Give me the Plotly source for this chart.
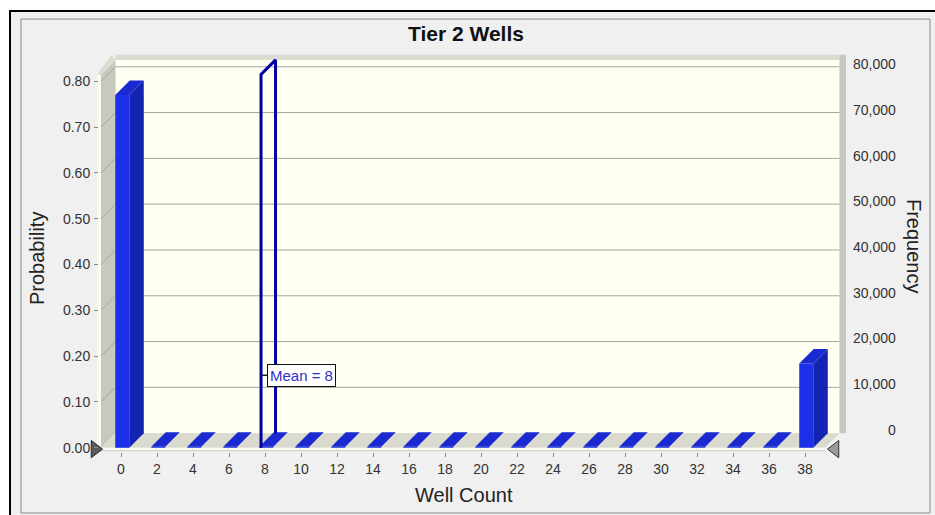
import plotly.graph_objects as go

# ---------------- data ----------------
well_counts = [0, 2, 4, 6, 8, 10, 12, 14, 16, 18, 20, 22, 24, 26, 28, 30, 32, 34, 36, 38]
probability = [0.770, 0.002, 0.002, 0.002, 0.002, 0.002, 0.002, 0.002, 0.002, 0.002,
               0.002, 0.002, 0.002, 0.002, 0.002, 0.002, 0.002, 0.002, 0.002, 0.184]
trials = 100000
mean_value = 7.78
mean_label = "Mean = 8"
prob_ticks = [0.0, 0.1, 0.2, 0.3, 0.4, 0.5, 0.6, 0.7, 0.8]
prob_ticktext = ["0.00", "0.10", "0.20", "0.30", "0.40", "0.50", "0.60", "0.70", "0.80"]
freq_ticks = [0, 10000, 20000, 30000, 40000, 50000, 60000, 70000, 80000]
freq_ticktext = ["0", "10,000", "20,000", "30,000", "40,000", "50,000", "60,000", "70,000", "80,000"]
x_ticks = well_counts

title = "Tier 2 Wells"
x_title = "Well Count"
y_title = "Probability"
y2_title = "Frequency"

# ---------------- layout geometry (pixels of a 935x515 design) ----------------
W, H = 935, 515
FIG_H = 521               # page height used by the viewer
PX0, PX1 = 84, 846        # plot area left / right
AX_LEFT = 98              # left axis position
PY0, PY1 = 52, 450        # plot area top / bottom
X_ORIGIN_PX, X_UNIT_PX = 121, 18.0       # x=0 pixel, pixels per unit
P_ORIGIN_PX, P_UNIT_PX = 446, 456.25     # p=0 pixel, pixels per probability unit
F_ORIGIN_PX, F_UNIT_PX = 428, 364 / 80000.0
RIGHT_LABEL_PX = 898

xr = [(PX0 - X_ORIGIN_PX) / X_UNIT_PX, (PX1 - X_ORIGIN_PX) / X_UNIT_PX]
yr = [(P_ORIGIN_PX - PY1) / P_UNIT_PX, (P_ORIGIN_PX - PY0) / P_UNIT_PX]
y2r = [(F_ORIGIN_PX - PY1) / F_UNIT_PX, (F_ORIGIN_PX - PY0) / F_UNIT_PX]

DX = 14.5 / X_UNIT_PX          # depth offset in x units
DY = 14.5 / P_UNIT_PX          # depth offset in probability units
XL = (101 - X_ORIGIN_PX) / X_UNIT_PX     # front-left of floor
XL_EDGE = (97 - X_ORIGIN_PX) / X_UNIT_PX
XR = (825 - X_ORIGIN_PX) / X_UNIT_PX     # front-right of floor
XR_OUT = (846 - X_ORIGIN_PX) / X_UNIT_PX
PT = 0.815                                # front top of walls
LEDGE = 5 / P_UNIT_PX
STRIP = 3 / P_UNIT_PX
BAR_HALF = 0.39
BAR_SHIFT = 0.07

C_PANEL = "#f0f0f0"
C_BACK = "#fffff2"
C_WALL = "#c8c8be"
C_TOP = "#dcdcd2"
C_FLOOR = "#dadacf"
C_EDGE = "#fbfbf4"
C_GRID = "#a4a4a4"
C_FRONT = "#1b30e8"
C_SIDE = "#1424b2"
C_BTOP = "#1a2ad0"
C_MEAN = "#0000a0"
FONT = "Arial, Liberation Sans, sans-serif"

fig = go.Figure()


def poly(xs, ys, color):
    fig.add_trace(go.Scatter(x=list(xs) + [xs[0]], y=list(ys) + [ys[0]], fill="toself",
                             fillcolor=color, mode="lines", line=dict(width=0, color=color),
                             hoverinfo="skip", showlegend=False))


def line(xs, ys, color, width=1):
    fig.add_trace(go.Scatter(x=xs, y=ys, mode="lines", line=dict(color=color, width=width),
                             hoverinfo="skip", showlegend=False))


# back wall
poly([XL + DX, XR + DX, XR + DX, XL + DX], [DY, DY, PT + DY, PT + DY], C_BACK)
# top ledge
poly([XL + DX, XR_OUT, XR_OUT, XL + DX], [PT + DY, PT + DY, PT + DY + LEDGE, PT + DY + LEDGE], C_TOP)
# right wall strip
poly([XR + DX, XR_OUT, XR_OUT, XR + DX], [DY, DY, PT + DY + LEDGE, PT + DY + LEDGE], C_WALL)
# left wall
poly([XL, XL + DX, XL + DX, XL], [0, DY, PT + DY, PT], C_WALL)
# left wall front edge
poly([XL_EDGE, XL, XL, XL_EDGE], [-STRIP, -STRIP, PT, PT], C_EDGE)
# left wall top edge
poly([XL_EDGE, XL, XL + DX, XL + DX - (XL - XL_EDGE)],
     [PT, PT, PT + DY, PT + DY + LEDGE], C_TOP)

# gridlines on back wall and left wall
gx, gy = [], []
for p in prob_ticks[1:]:
    gx += [XL, XL + DX, XR + DX, None]
    gy += [p, p + DY, p + DY, None]
line(gx, gy, C_GRID, 1)

# floor
poly([XL, XR, XR + DX, XL + DX], [0, 0, DY, DY], C_FLOOR)
# floor front edge
poly([XL_EDGE, XR, XR, XL_EDGE], [-STRIP, -STRIP, 0, 0], C_EDGE)
line([XL_EDGE, XR], [-STRIP, -STRIP], "#c8c8c0", 1)

# bars
for v, p in zip(well_counts, probability):
    x0 = v + BAR_SHIFT - BAR_HALF
    x1 = v + BAR_SHIFT + BAR_HALF
    poly([x0, x1, x1, x0], [0, 0, p, p], C_FRONT)
    poly([x1, x1 + DX, x1 + DX, x1], [0, DY, p + DY, p], C_SIDE)
    poly([x0, x1, x1 + DX, x0 + DX], [p, p, p + DY, p + DY], C_BTOP)

# invisible frequency trace on the right axis
fig.add_trace(go.Scatter(x=well_counts, y=[p * trials for p in probability], yaxis="y2",
                         mode="markers", marker=dict(opacity=0), hoverinfo="skip", showlegend=False))

# mean line
line([mean_value, mean_value, mean_value + DX, mean_value + DX],
     [0, PT, PT + DY, DY], C_MEAN, 3)
mean_lab_p = 0.158
line([mean_value, mean_value + 0.35], [mean_lab_p, mean_lab_p], "#222222", 1.5)
fig.add_annotation(x=mean_value + 0.33, y=mean_lab_p, xref="x", yref="y", text=mean_label,
                   showarrow=False, xanchor="left", yanchor="middle",
                   font=dict(family=FONT, size=15, color="#3030c8"),
                   bgcolor="#ffffff", bordercolor="#111111", borderwidth=1, borderpad=2)

# certainty grabbers
fig.add_trace(go.Scatter(x=[(95 - X_ORIGIN_PX) / X_UNIT_PX], y=[-0.003], mode="markers",
                         marker=dict(symbol="triangle-right", size=15, color="#5a5a5a",
                                     line=dict(color="#2a2a2a", width=1)),
                         cliponaxis=False, hoverinfo="skip", showlegend=False))
fig.add_trace(go.Scatter(x=[(835 - X_ORIGIN_PX) / X_UNIT_PX], y=[-0.003], mode="markers",
                         marker=dict(symbol="triangle-left", size=15, color="#9a9a9a",
                                     line=dict(color="#333333", width=1)),
                         cliponaxis=False, hoverinfo="skip", showlegend=False))


# panel shapes (paper coords)
def px(x):
    return x / W


def py(y):
    return 1 - y / H


shapes = [
    dict(type="rect", xref="paper", yref="paper", x0=px(10), x1=px(945), y0=py(11), y1=py(530),
         fillcolor=C_PANEL, line=dict(color="#000000", width=2), layer="below"),
    dict(type="rect", xref="paper", yref="paper", x0=px(21), x1=px(930), y0=py(19), y1=py(511),
         fillcolor="rgba(0,0,0,0)", line=dict(color="#8a8a8a", width=1), layer="below"),
]

tickfont = dict(family=FONT, size=14, color="#333333")

annotations = [
    dict(text="<b>" + title + "</b>", x=px(466), y=py(33), xref="paper", yref="paper",
         showarrow=False, xanchor="center", yanchor="middle",
         font=dict(family=FONT, size=21, color="#111111")),
    dict(text=x_title, x=px(464), y=py(493), xref="paper", yref="paper",
         showarrow=False, xanchor="center", yanchor="middle",
         font=dict(family=FONT, size=20, color="#222222")),
    dict(text=y_title, x=px(37), y=py(258), xref="paper", yref="paper", textangle=-90,
         showarrow=False, xanchor="center", yanchor="middle",
         font=dict(family=FONT, size=20, color="#222222")),
    dict(text=y2_title, x=px(914), y=py(245), xref="paper", yref="paper", textangle=90,
         showarrow=False, xanchor="center", yanchor="middle",
         font=dict(family=FONT, size=20, color="#222222")),
]
# right-aligned frequency tick labels on the y2 scale
for fv, ft in zip(freq_ticks, freq_ticktext):
    annotations.append(dict(text=ft, x=px(RIGHT_LABEL_PX), y=fv, xref="paper", yref="y2",
                            showarrow=False, xanchor="right", yanchor="middle",
                            font=tickfont))
for a in annotations:
    fig.add_annotation(**a)

fig.update_layout(
    width=W, height=FIG_H,
    margin=dict(l=0, r=0, t=0, b=0),
    paper_bgcolor="#ffffff",
    plot_bgcolor="rgba(0,0,0,0)",
    shapes=shapes,
    showlegend=False,
    xaxis=dict(domain=[px(PX0), px(PX1)], range=xr, tickvals=x_ticks,
               ticktext=[str(t) for t in x_ticks], ticks="outside", ticklen=4,
               tickcolor="#888888", showgrid=False, zeroline=False, showline=False,
               tickfont=tickfont, fixedrange=True),
    yaxis=dict(domain=[py(PY1), py(PY0)], range=yr, tickvals=prob_ticks,
               ticktext=prob_ticktext, ticks="outside", ticklen=4, tickcolor="#888888",
               showgrid=False, zeroline=False, showline=False, tickfont=tickfont,
               ticklabelstandoff=1, fixedrange=True, anchor="free", position=px(AX_LEFT)),
    yaxis2=dict(overlaying="y", side="right", range=y2r, tickvals=freq_ticks,
                showticklabels=False, ticks="", showgrid=False, zeroline=False,
                showline=False, fixedrange=True, anchor="x"),
)

fig.write_html(
    "out.html",
    config={"displayModeBar": False, "staticPlot": True},
    post_script=("document.documentElement.style.margin='0';"
                 "document.body.style.margin='0';"
                 "document.body.style.overflow='hidden';"
                 "document.documentElement.style.overflow='hidden';"),
)
